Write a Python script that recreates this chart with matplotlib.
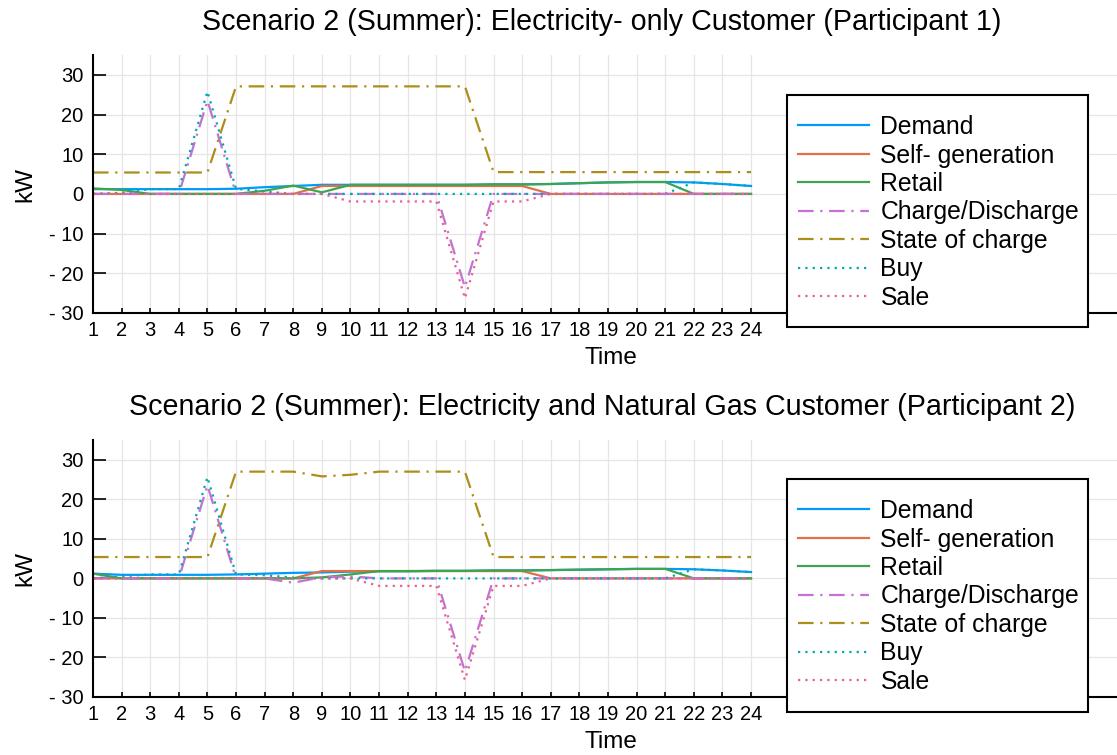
import numpy as np
import matplotlib.pyplot as plt
from matplotlib.patches import Rectangle

plt.rcParams['font.family'] = ['Liberation Sans', 'DejaVu Sans']

hours = np.arange(1, 25)
labels = ['Demand', 'Self- generation', 'Retail', 'Charge/Discharge',
          'State of charge', 'Buy', 'Sale']

# participant 1 (electricity only)
demand1 = [1.2, 1.2, 1.2, 1.2, 1.2, 1.3, 1.7, 2.0, 2.3, 2.3, 2.3, 2.3,
           2.3, 2.3, 2.4, 2.4, 2.5, 2.7, 2.9, 3.0, 3.0, 2.9, 2.5, 2.0]
selfgen1 = [0, 0, 0, 0, 0, 0, 0, 0, 2.0, 2.0, 2.0, 2.0,
            2.0, 2.0, 2.0, 2.0, 0, 0, 0, 0, 0, 0, 0, 0]
retail1 = [1.4, 1.0, 0, 0, 0, 0, 0.8, 2.1, 0.4, 2.3, 2.3, 2.3,
           2.3, 2.3, 2.4, 2.4, 2.5, 2.7, 2.9, 3.0, 3.0, 0, 0, 0]
charge1 = [0, 0, 0, 0, 23.5, 0, 0, 0, 0, 0, 0, 0,
           0, -23.5, 0, 0, 0, 0, 0, 0, 0, 0, 0, 0]
soc1 = [5.4, 5.4, 5.4, 5.4, 5.4, 27.1, 27.1, 27.1, 27.1, 27.1, 27.1, 27.1,
        27.1, 27.1, 5.5, 5.5, 5.5, 5.5, 5.5, 5.5, 5.5, 5.5, 5.5, 5.5]
buy1 = [0, 0.3, 1.2, 1.2, 25.8, 1.3, 0.6, 0, 0, 0, 0, 0,
        0, 0, 0, 0, 0, 0, 0, 0, 0, 2.9, 2.5, 2.0]
sale1 = [0, 0, 0, 0, 0, 0, 0, 0, 0, -1.9, -1.9, -1.9,
         -1.9, -26.3, -1.9, -1.9, 0, 0, 0, 0, 0, 0, 0, 0]

# participant 2 (electricity and natural gas)
demand2 = [1.2, 0.9, 0.9, 0.9, 0.9, 1.0, 1.2, 1.4, 1.5, 1.7, 1.8, 1.8,
           1.9, 1.9, 2.0, 2.0, 2.1, 2.2, 2.3, 2.4, 2.4, 2.3, 2.0, 1.6]
selfgen2 = [0, 0, 0, 0, 0, 0, 0, 0, 1.85, 1.85, 1.85, 1.85,
            1.85, 1.85, 1.85, 1.85, 0, 0, 0, 0, 0, 0, 0, 0]
retail2 = [1.2, 0, 0, 0, 0, 0, 0, 0, 0.25, 1.0, 1.85, 1.85,
           1.9, 1.9, 2.0, 2.0, 2.1, 2.2, 2.3, 2.4, 2.4, 0, 0, 0]
charge2 = [0, 0, 0, 0, 23.5, 0, 0, -1.1, 0.3, 0.5, 0, 0,
           0, -23.5, 0, 0, 0, 0, 0, 0, 0, 0, 0, 0]
soc2 = [5.4, 5.4, 5.4, 5.4, 5.4, 27.0, 27.0, 27.0, 25.8, 26.2, 27.0, 27.0,
        27.0, 27.0, 5.4, 5.4, 5.4, 5.4, 5.4, 5.4, 5.4, 5.4, 5.4, 5.4]
buy2 = [0, 0.5, 1.0, 1.0, 25.6, 1.0, 0.8, 0.2, 0, 0, 0, 0,
        0, 0, 0, 0, 0, 0, 0, 0, 0, 2.3, 2.0, 1.6]
sale2 = [0, 0, 0, 0, 0, 0, 0, 0, 0, 0, -1.9, -1.9,
         -1.9, -25.7, -1.9, -1.9, 0, 0, 0, 0, 0, 0, 0, 0]

titles = ['Scenario 2 (Summer): Electricity- only Customer (Participant 1)',
          'Scenario 2 (Summer): Electricity and Natural Gas Customer (Participant 2)']
yticks = [30, 20, 10, 0, -10, -20, -30]
yticklabels = ['30', '20', '10', '0', '- 10', '- 20', '- 30']

colors = ['#009AFA', '#E36F47', '#3EA44E', '#C371D2', '#AC8E18', '#00AAAE', '#ED5E93']
dashdot = (0, (7, 3, 1, 3))
dotted = (0, (1, 2.3))
styles = ['-', '-', '-', dashdot, dashdot, dotted, dotted]

W, H = 1117, 755
fig = plt.figure(figsize=(W / 100, H / 100), dpi=100)

# axes boxes in pixels: top, bottom
boxes = [(55, 313), (440, 697)]
title_y = [22, 407]
xlabel_y = [358, 742]
legend_top = [95, 479]
legend_bot = [327, 712]
data = [[demand1, selfgen1, retail1, charge1, soc1, buy1, sale1],
        [demand2, selfgen2, retail2, charge2, soc2, buy2, sale2]]

for i in range(2):
    top, bot = boxes[i]
    ax = fig.add_axes([93 / W, 1 - bot / H, 1 - 93 / W, (bot - top) / H])
    for k in range(7):
        ax.plot(hours, data[i][k], color=colors[k], linestyle=styles[k],
                lw=1.6, label=labels[k])
    ax.set_xlim(1, 1 + (W - 93) / 28.61)
    ax.set_ylim(-30, 35)
    ax.set_xticks(hours)
    ax.set_yticks(yticks)
    ax.set_yticklabels(yticklabels)
    ax.grid(True, color='#e6e6e6', lw=0.9)
    ax.set_axisbelow(True)
    for s in ['top', 'right']:
        ax.spines[s].set_visible(False)
    for s in ['left', 'bottom']:
        ax.spines[s].set_linewidth(1.5)
    ax.tick_params(axis='y', direction='in', length=9, width=1.2, labelsize=14.5, pad=7)
    ax.tick_params(axis='x', direction='in', length=3.5, width=1.2, labelsize=14.5, pad=6)
    ax.set_ylabel('kW', fontsize=17.5, labelpad=9)
    fig.text(602 / W, 1 - title_y[i] / H, titles[i], fontsize=20.6,
             ha='center', va='center')
    fig.text(611 / W, 1 - xlabel_y[i] / H, 'Time', fontsize=17.5,
             ha='center', va='center')

    # legend box drawn by hand so the padding can match
    lt, lb = legend_top[i], legend_bot[i]
    box = Rectangle((787 / W, 1 - lb / H), (1088 - 787) / W, (lb - lt) / H,
                    transform=fig.transFigure, facecolor='white',
                    edgecolor='black', lw=1.5, zorder=4, clip_on=False)
    ax.add_artist(box)
    leg = ax.legend(loc='upper left',
                    bbox_to_anchor=((787 - 93) / (W - 93), (bot - lt - 9) / (bot - top)),
                    fontsize=17.8, frameon=False, borderpad=0.45, labelspacing=0.18,
                    handlelength=2.85, handletextpad=0.48, borderaxespad=0)
    leg.set_zorder(6)

fig.savefig('out.png', dpi=100)
